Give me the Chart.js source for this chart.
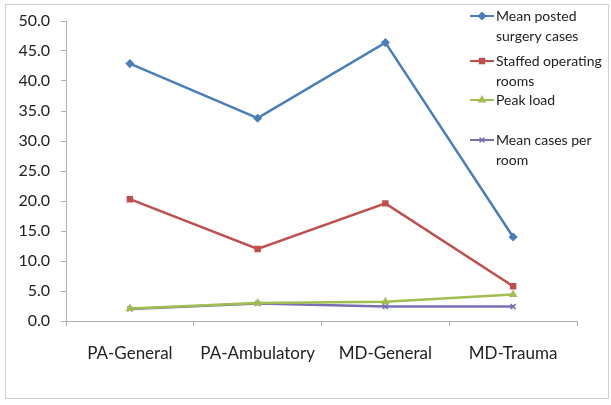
<!DOCTYPE html>
<html>
<head>
<meta charset="utf-8">
<script src="https://cdn.jsdelivr.net/npm/chart.js@4.4.1/dist/chart.umd.min.js"></script>
<style>
  html, body { margin: 0; padding: 0; background: #fff; }
  #wrap { width: 611px; height: 405px; position: relative; }
</style>
</head>
<body>
<div id="wrap"><canvas id="c"></canvas></div>
<script>
const categories = ['PA-General', 'PA-Ambulatory', 'MD-General', 'MD-Trauma'];
const meanPosted = [42.9, 33.8, 46.4, 14.0];
const staffedRooms = [20.3, 12.0, 19.6, 5.8];
const peakLoad = [2.1, 3.0, 3.2, 4.4];
const meanPerRoom = [2.0, 2.9, 2.4, 2.4];
const seriesNames = [['Mean posted', 'surgery cases'], ['Staffed operating', 'rooms'], ['Peak load'], ['Mean cases per', 'room']];
const yTicks = [0, 5, 10, 15, 20, 25, 30, 35, 40, 45, 50];

const FONT = "Lato, 'Open Sans', sans-serif";
const colors = ['#4a7ebb', '#c24e4b', '#a2bd52', '#7670b4'];
const styles = ['rectRot', 'rect', 'triangle', 'crossRot'];

// frame around whole chart
const framePlugin = {
  id: 'frame',
  beforeDraw(chart) {
    const ctx = chart.ctx;
    ctx.save();
    ctx.fillStyle = '#fff';
    ctx.fillRect(0, 0, chart.width, chart.height);
    ctx.strokeStyle = '#d0d0d0';
    ctx.lineWidth = 1;
    ctx.strokeRect(5.5, 4.5, 603, 394);
    ctx.restore();
  }
};

// legend drawn on top of the plot, upper right
const legendPlugin = {
  id: 'sideLegend',
  afterDraw(chart) {
    const ctx = chart.ctx;
    const rows = [16, 61, 100, 140];
    ctx.save();
    ctx.font = '14px ' + FONT;
    ctx.textBaseline = 'middle';
    chart.data.datasets.forEach((ds, i) => {
      const y = rows[i];
      ctx.strokeStyle = ds.borderColor;
      ctx.lineWidth = 2;
      ctx.beginPath();
      ctx.moveTo(470, y);
      ctx.lineTo(494, y);
      ctx.stroke();
      ctx.fillStyle = ds.pointBackgroundColor;
      ctx.strokeStyle = ds.pointBorderColor;
      ctx.lineWidth = 1.5;
      Chart.helpers.drawPoint(ctx, {
        pointStyle: ds.pointStyle, radius: 3.5, rotation: 0, borderWidth: 1.5
      }, 482, y);
      ctx.fillStyle = '#222';
      seriesNames[i].forEach((line, k) => {
        ctx.fillText(line, 496, y + k * 20);
      });
    });
    ctx.restore();
  }
};

function makeSet(label, data, i) {
  return {
    label: label,
    data: data,
    borderColor: colors[i],
    backgroundColor: colors[i],
    pointBackgroundColor: colors[i],
    pointBorderColor: colors[i],
    pointStyle: styles[i],
    pointRadius: 3.5,
    pointBorderWidth: 1.5,
    borderWidth: 2.5,
    tension: 0
  };
}

new Chart(document.getElementById('c'), {
  type: 'line',
  data: {
    labels: categories,
    datasets: [
      makeSet(seriesNames[0].join(' '), meanPosted, 0),
      makeSet(seriesNames[1].join(' '), staffedRooms, 1),
      makeSet(seriesNames[2].join(' '), peakLoad, 2),
      makeSet(seriesNames[3].join(' '), meanPerRoom, 3)
    ]
  },
  options: {
    responsive: true,
    maintainAspectRatio: false,
    animation: false,
    layout: { padding: { left: 0, right: 34, top: 21, bottom: 0 } },
    plugins: {
      legend: { display: false },
      tooltip: { enabled: false }
    },
    scales: {
      x: {
        offset: true,
        grid: { display: true, drawOnChartArea: false, offset: true, tickLength: 5, color: '#b0b0b0' },
        border: { color: '#b0b0b0', width: 1 },
        ticks: { color: '#222', font: { family: FONT, size: 17 }, padding: 17, maxRotation: 0 },
        afterFit(scale) { scale.height = 84; }
      },
      y: {
        min: 0,
        max: 50,
        afterBuildTicks(scale) { scale.ticks = yTicks.map(v => ({ value: v })); },
        grid: { display: true, drawOnChartArea: false, tickLength: 5, color: '#b0b0b0' },
        border: { color: '#b0b0b0', width: 1 },
        ticks: {
          color: '#222',
          font: { family: FONT, size: 16 },
          padding: 11,
          callback: v => v.toFixed(1)
        },
        afterFit(scale) { scale.width = 66; }
      }
    }
  },
  plugins: [framePlugin, legendPlugin]
});
</script>
</body>
</html>
